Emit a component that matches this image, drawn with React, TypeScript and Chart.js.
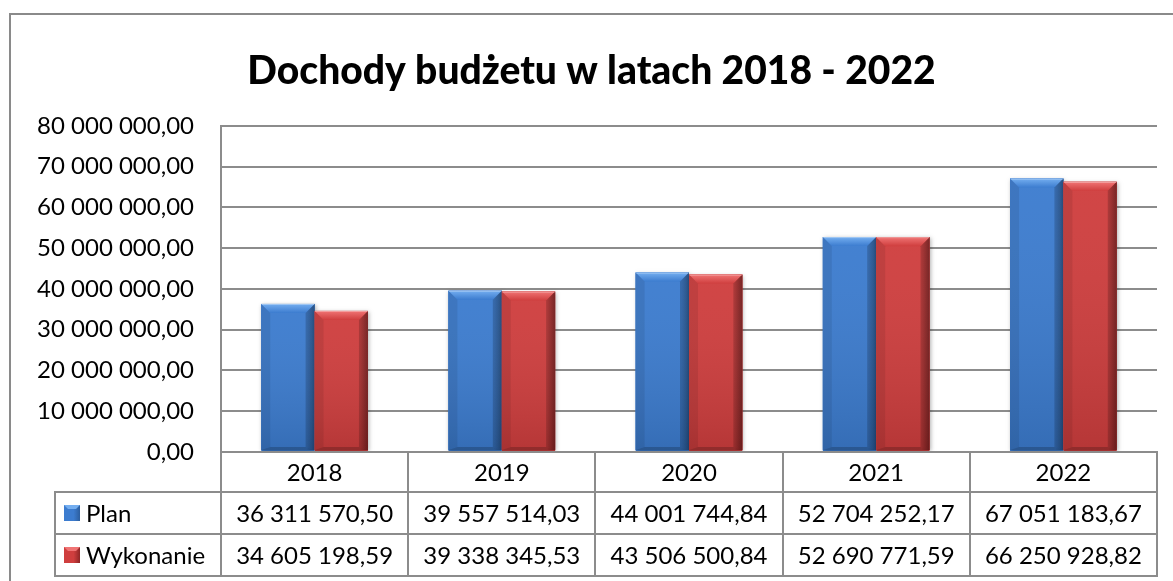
import React, { useEffect, useRef } from "react";
import { Chart, registerables } from "chart.js";

Chart.register(...registerables);

const titleText = "Dochody budżetu w latach 2018 - 2022";
const categories = ["2018", "2019", "2020", "2021", "2022"];
const seriesNames = ["Plan", "Wykonanie"];
const planValues = [36311570.5, 39557514.03, 44001744.84, 52704252.17, 67051183.67];
const wykonanieValues = [34605198.59, 39338345.53, 43506500.84, 52690771.59, 66250928.82];
const yMin = 0;
const yMax = 80000000;
const yStep = 10000000;

const FONT = "Lato, 'Open Sans', 'DejaVu Sans', sans-serif";
const GRID = "#8c8c8c";

const palettes = [
  { dark: "#2c5e9e", mid: "#3c7ccf", light: "#74aef0", base: "#3876c8" },
  { dark: "#8e2626", mid: "#cf3e3e", light: "#f07474", base: "#c83a3a" },
];

function fmt(v: number): string {
  const [i, d] = v.toFixed(2).split(".");
  return i.replace(/\B(?=(\d{3})+(?!\d))/g, " ") + "," + d;
}

function drawBevelBar(ctx: CanvasRenderingContext2D, left: number, top: number, right: number, bottom: number, p: any) {
  const w = right - left;
  const h = bottom - top;
  if (w <= 0 || h <= 0) return;
  const b = Math.min(9, h / 3, w / 3);
  ctx.save();
  ctx.shadowColor = "rgba(0,0,0,0.3)";
  ctx.shadowBlur = 4;
  ctx.shadowOffsetX = 1;
  ctx.shadowOffsetY = 1;
  ctx.fillStyle = p.mid;
  ctx.fillRect(left, top, w, h);
  ctx.restore();
  const g = ctx.createLinearGradient(left, 0, right, 0);
  g.addColorStop(0, p.mid);
  g.addColorStop(0.5, p.mid);
  g.addColorStop(0.85, p.mid);
  g.addColorStop(1, p.dark);
  ctx.fillStyle = g;
  ctx.fillRect(left, top, w, h);
  const gv = ctx.createLinearGradient(0, top, 0, bottom);
  gv.addColorStop(0, "rgba(255,255,255,0.04)");
  gv.addColorStop(1, "rgba(0,0,0,0.12)");
  ctx.fillStyle = gv;
  ctx.fillRect(left, top, w, h);
  const gt = ctx.createLinearGradient(0, top, 0, top + b);
  gt.addColorStop(0, p.light);
  gt.addColorStop(1, p.mid);
  ctx.fillStyle = gt;
  ctx.beginPath();
  ctx.moveTo(left, top);
  ctx.lineTo(right, top);
  ctx.lineTo(right - b, top + b);
  ctx.lineTo(left + b, top + b);
  ctx.closePath();
  ctx.fill();
  ctx.fillStyle = "rgba(0,0,0,0.08)";
  ctx.beginPath();
  ctx.moveTo(left, top);
  ctx.lineTo(left + b, top + b);
  ctx.lineTo(left + b, bottom - 3);
  ctx.lineTo(left, bottom);
  ctx.closePath();
  ctx.fill();
  ctx.fillStyle = "rgba(0,0,0,0.18)";
  ctx.beginPath();
  ctx.moveTo(right, top);
  ctx.lineTo(right - b, top + b);
  ctx.lineTo(right - b, bottom - 3);
  ctx.lineTo(right, bottom);
  ctx.closePath();
  ctx.fill();
  ctx.fillStyle = "rgba(0,0,0,0.2)";
  ctx.beginPath();
  ctx.moveTo(left, bottom);
  ctx.lineTo(left + b, bottom - 3);
  ctx.lineTo(right - b, bottom - 3);
  ctx.lineTo(right, bottom);
  ctx.closePath();
  ctx.fill();
  ctx.strokeStyle = "rgba(255,255,255,0.35)";
  ctx.lineWidth = 1;
  ctx.beginPath();
  ctx.moveTo(left + 0.5, top + 0.5);
  ctx.lineTo(right - 0.5, top + 0.5);
  ctx.stroke();
}

const bevelPlugin = {
  id: "bevelBars",
  afterDatasetsDraw(chart: any) {
    const ctx = chart.ctx as CanvasRenderingContext2D;
    const { top: caTop, bottom: caBottom, left: caLeft, right: caRight } = chart.chartArea;
    ctx.save();
    ctx.beginPath();
    ctx.rect(caLeft, caTop - 2, caRight - caLeft + 10, caBottom - caTop + 2);
    ctx.clip();
    chart.data.datasets.forEach((_ds: any, di: number) => {
      const meta = chart.getDatasetMeta(di);
      meta.data.forEach((el: any) => {
        const { x, y, base, width } = el.getProps(["x", "y", "base", "width"], true);
        drawBevelBar(ctx, x - width / 2, Math.min(y, base), x + width / 2, Math.max(y, base) - 1, palettes[di]);
      });
    });
    ctx.restore();
  },
};

function drawKey(ctx: CanvasRenderingContext2D, x: number, y: number, s: number, p: any) {
  const g = ctx.createLinearGradient(x, 0, x + s, 0);
  g.addColorStop(0, p.mid);
  g.addColorStop(0.6, p.mid);
  g.addColorStop(1, p.dark);
  ctx.fillStyle = g;
  ctx.fillRect(x, y, s, s);
  const b = 4;
  ctx.fillStyle = p.light;
  ctx.beginPath();
  ctx.moveTo(x, y);
  ctx.lineTo(x + s, y);
  ctx.lineTo(x + s - b, y + b);
  ctx.lineTo(x + b, y + b);
  ctx.closePath();
  ctx.fill();
}

const tablePlugin = {
  id: "dataTable",
  afterDraw(chart: any) {
    const ctx = chart.ctx as CanvasRenderingContext2D;
    const { left, right, bottom } = chart.chartArea;
    const n = categories.length;
    const cw = (right - left) / n;
    const y0 = Math.round(bottom);
    const y1 = y0 + 40;
    const y2 = y1 + 42;
    const y3 = y2 + 42;
    const legLeft = 55;
    ctx.save();
    ctx.strokeStyle = "#8a8a8a";
    ctx.lineWidth = 2;
    ctx.beginPath();
    ctx.moveTo(10, 600);
    ctx.lineTo(10, 14);
    ctx.lineTo(1200, 14);
    ctx.stroke();

    ctx.strokeStyle = GRID;
    ctx.lineWidth = 2;
    ctx.beginPath();
    [y1, y2, y3].forEach((yy) => {
      ctx.moveTo(legLeft, yy);
      ctx.lineTo(right, yy);
    });
    ctx.moveTo(legLeft, y1 - 1);
    ctx.lineTo(legLeft, y3 + 1);
    for (let i = 0; i <= n; i++) {
      const xx = Math.round(left + i * cw);
      ctx.moveTo(xx, y0 - 1);
      ctx.lineTo(xx, y3 + 1);
    }
    ctx.moveTo(left, y0);
    ctx.lineTo(right, y0);
    ctx.stroke();

    ctx.fillStyle = "#000";
    ctx.font = `24px ${FONT}`;
    ctx.textAlign = "center";
    ctx.textBaseline = "middle";
    const rowsVals = [planValues, wykonanieValues];
    for (let i = 0; i < n; i++) {
      const cx = left + (i + 0.5) * cw;
      ctx.fillText(categories[i], cx, (y0 + y1) / 2 + 1);
      rowsVals.forEach((vals, r) => {
        const cy = r === 0 ? (y1 + y2) / 2 + 1 : (y2 + y3) / 2 + 1;
        ctx.fillText(fmt(vals[i]), cx, cy);
      });
    }
    ctx.textAlign = "left";
    seriesNames.forEach((name, r) => {
      const cy = r === 0 ? (y1 + y2) / 2 : (y2 + y3) / 2;
      drawKey(ctx, 64, Math.round(cy - 8), 16, palettes[r]);
      ctx.fillStyle = "#000";
      ctx.fillText(name, 86, cy + 1);
    });
    ctx.restore();
  },
};

export default function App() {
  const ref = useRef<HTMLCanvasElement | null>(null);
  useEffect(() => {
    if (!ref.current) return;
    const chart = new Chart(ref.current, {
      type: "bar",
      data: {
        labels: categories,
        datasets: [
          { label: seriesNames[0], data: planValues, backgroundColor: palettes[0].base, borderWidth: 0 },
          { label: seriesNames[1], data: wykonanieValues, backgroundColor: palettes[1].base, borderWidth: 0 },
        ],
      },
      options: {
        responsive: false,
        animation: false,
        events: [],
        layout: { padding: { left: 26, right: 16, top: 0, bottom: 129 } },
        datasets: { bar: { categoryPercentage: 0.57, barPercentage: 1.0 } },
        plugins: {
          legend: { display: false },
          tooltip: { enabled: false },
          title: {
            display: true,
            text: titleText,
            color: "#000",
            font: { family: FONT, size: 39, weight: "900", lineHeight: 1.2 },
            padding: { top: 48, bottom: 31 },
          },
        },
        scales: {
          x: { display: false, offset: true },
          y: {
            min: yMin,
            max: yMax,
            afterFit: (scale: any) => {
              scale.width = 195;
            },
            ticks: {
              stepSize: yStep,
              padding: 27,
              color: "#000",
              font: { family: FONT, size: 24 },
              callback: (v: any) => fmt(Number(v)),
            },
            grid: { color: GRID, lineWidth: 2, drawTicks: false },
            border: { color: GRID, width: 2 },
          },
        },
      },
      plugins: [bevelPlugin, tablePlugin],
    });
    return () => chart.destroy();
  }, []);
  return (
    <div style={{ position: "fixed", left: 0, top: 0, width: 1173, height: 581, background: "#fff" }}>
      <canvas ref={ref} width={1173} height={581} style={{ display: "block" }} />
    </div>
  );
}
